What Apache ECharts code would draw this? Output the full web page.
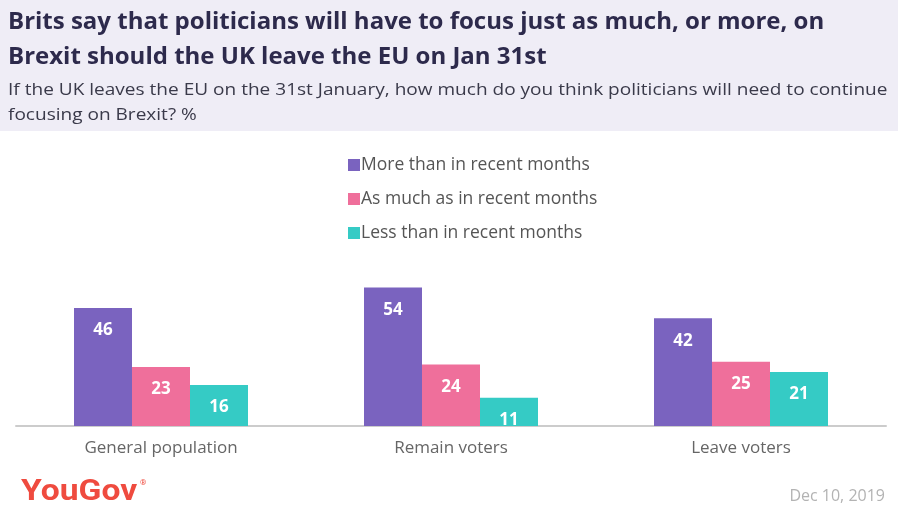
<!DOCTYPE html>
<html>
<head>
<meta charset="utf-8">
<script src="https://cdn.jsdelivr.net/npm/echarts@6/dist/echarts.min.js"></script>
<style>html,body{margin:0;padding:0;background:#fff}#c{width:898px;height:514px}</style>
</head>
<body>
<div id="c"></div>
<script>
const categories = ['General population', 'Remain voters', 'Leave voters'];
const seriesNames = ['More than in recent months', 'As much as in recent months', 'Less than in recent months'];
const moreThan = [46, 54, 42];
const asMuch = [23, 24, 25];
const lessThan = [16, 11, 21];
const colors = ['#7a63bf', '#ef6f9b', '#35cbc5'];

const chart = echarts.init(document.getElementById('c'));
const values = [moreThan, asMuch, lessThan];
chart.setOption({
  animation: false,
  backgroundColor: '#ffffff',
  graphic: [
    {
      type: 'rect', left: 0, top: 0, z: -1,
      shape: { width: 898, height: 131 },
      style: { fill: '#efedf6' }
    },
    {
      type: 'text', x: 8, y: 5, scaleX: 1.0,
      style: {
        text: 'Brits say that politicians will have to focus just as much, or more, on\nBrexit should the UK leave the EU on Jan 31st',
        font: 'bold 24px "Open Sans"', lineHeight: 35, fill: '#2d2a4c'
      }
    },
    {
      type: 'text', x: 8, y: 78, scaleX: 1.12,
      style: {
        text: 'If the UK leaves the EU on the 31st January, how much do you think politicians will need to continue\nfocusing on Brexit? %',
        font: '17px "Open Sans"', lineHeight: 25, fill: '#3a3a4a'
      }
    },
    {
      type: 'text', x: 21, y: 477, scaleX: 1.12,
      style: { text: 'YouGov', font: 'bold 30px "Roboto"', fill: '#ef4b3f' }
    },
    {
      type: 'text', x: 140, y: 479,
      style: { text: '®', font: '8px "Roboto"', fill: '#ef4b3f' }
    },
    {
      type: 'text', x: 885, y: 488,
      style: { text: 'Dec 10, 2019', font: '16px "Open Sans"', fill: '#b3b3b3', align: 'right' }
    }
  ],
  legend: {
    orient: 'vertical',
    left: 343, top: 150,
    itemWidth: 12, itemHeight: 12, itemGap: 14,
    icon: 'rect',
    textStyle: { fontFamily: 'Open Sans', fontSize: 17.5, color: '#555', lineHeight: 20, padding: [0, 0, 0, -4] },
    data: seriesNames
  },
  grid: { left: 16, right: 12, top: 272, bottom: 88 },
  xAxis: {
    type: 'category',
    data: categories,
    axisLine: { lineStyle: { color: '#cccccc', width: 2 } },
    axisTick: { show: false },
    axisLabel: { fontFamily: 'Open Sans', fontSize: 17, color: '#666', margin: 14 }
  },
  yAxis: { type: 'value', min: 0, max: 60, show: false },
  series: seriesNames.map((n, i) => ({
    name: n,
    type: 'bar',
    data: values[i],
    barGap: '0%',
    barCategoryGap: '40%',
    itemStyle: { color: colors[i] },
    label: {
      show: true, position: 'insideTop', distance: 14,
      fontFamily: 'Open Sans', fontWeight: 'bold', fontSize: 17, color: '#fff'
    }
  }))
});
</script>
</body>
</html>
